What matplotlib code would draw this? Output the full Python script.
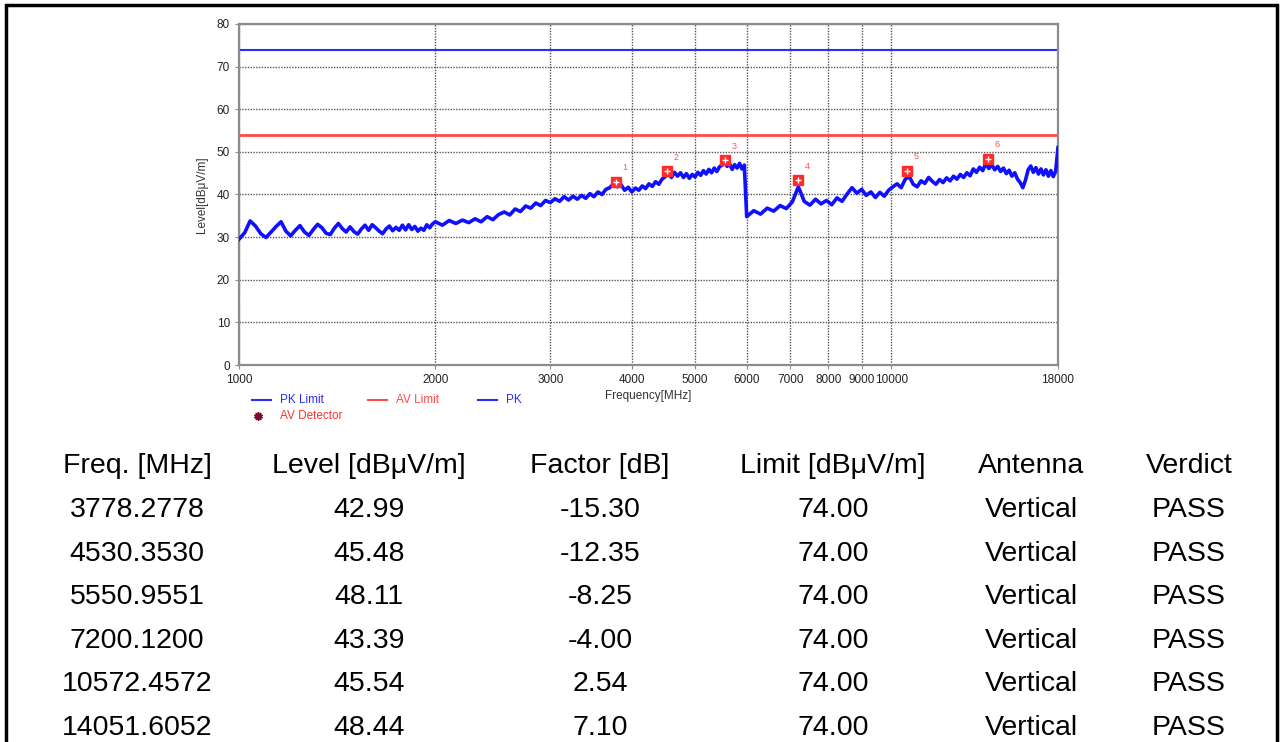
import numpy as np
import matplotlib.pyplot as plt
from matplotlib.lines import Line2D
from matplotlib.patches import Rectangle
from matplotlib.ticker import FixedLocator, NullLocator, FixedFormatter

plt.rcParams['font.family'] = ['Liberation Sans', 'DejaVu Sans']

# ---- sweep data (PK trace) ----
freq_a = np.arange(1000, 2000, 20)
level_a = [29.5, 31.0, 33.8, 32.6, 30.8, 29.9, 31.2, 32.5, 33.6, 31.4,
           30.3, 31.6, 32.7, 31.2, 30.4, 31.8, 33.0, 32.2, 30.9, 30.6,
           32.1, 33.2, 32.0, 31.2, 32.4, 31.3, 30.7, 31.9, 32.8, 31.6,
           32.9, 32.2, 31.4, 30.8, 31.9, 32.6, 31.5, 32.3, 31.6, 32.8,
           31.7, 32.9, 31.8, 32.5, 31.4, 32.1, 31.6, 32.9, 32.2, 33.1]

freq_b = np.arange(2000, 6000, 50)
level_b = [33.6, 32.8, 33.9, 33.2, 34.0, 33.4, 34.3, 33.6, 34.8, 34.1,
           35.3, 35.9, 35.2, 36.6, 36.0, 37.3, 36.8, 38.0, 37.4, 38.6,
           38.1, 39.0, 38.4, 39.5, 38.7, 39.6, 38.9, 39.8, 39.1, 40.2,
           39.5, 40.6, 40.0, 41.2, 41.6, 42.5, 41.8, 42.3, 41.0, 41.7,
           40.6, 41.5, 41.0, 42.0, 41.4, 42.5, 41.9, 43.0, 42.4, 43.6,
           44.2, 44.9, 44.0, 45.2, 44.3, 45.1, 44.0, 44.9, 43.8, 44.7,
           44.1, 45.2, 44.5, 45.6, 44.8, 45.9, 45.1, 46.2, 45.4, 46.5,
           46.9, 47.6, 46.6, 47.2, 45.9, 47.0, 46.2, 47.3, 46.0, 46.9]

freq_c = np.arange(6000, 18000, 150)
level_c = [34.8, 36.2, 35.4, 36.8, 36.1, 37.4, 36.7, 38.3, 41.8, 38.4,
           37.5, 38.9, 37.8, 38.6, 37.6, 39.2, 38.4, 40.1, 41.6, 40.3,
           41.2, 39.8, 40.6, 39.3, 40.5, 39.6, 41.0, 41.8, 42.5, 41.6,
           43.6, 44.2, 42.4, 41.8, 43.2, 42.6, 44.0, 43.1, 42.4, 43.5,
           42.8, 43.9, 43.2, 44.3, 43.6, 44.7, 44.0, 45.1, 44.4, 46.0,
           45.2, 46.4, 45.6, 47.3, 46.1, 47.0, 45.8, 46.6, 45.4, 46.2,
           44.9, 45.7, 44.3, 45.1, 43.6, 42.8, 41.6, 43.4, 45.8, 46.7,
           45.2, 46.3, 44.8, 46.0, 44.6, 45.8, 44.3, 45.6, 44.2, 45.4]
freq_end = [18000]
level_end = [51.0]

trace_f = np.concatenate([freq_a, freq_b, freq_c, freq_end])
trace_l = np.concatenate([level_a, level_b, level_c, level_end])

pk_limit = 74.0
av_limit = 54.0

# ---- final measurement table ----
mk_freq = [3778.2778, 4530.3530, 5550.9551, 7200.1200, 10572.4572, 14051.6052]
mk_level = [42.99, 45.48, 48.11, 43.39, 45.54, 48.44]
mk_factor = [-15.30, -12.35, -8.25, -4.00, 2.54, 7.10]
mk_limit = [74.00, 74.00, 74.00, 74.00, 74.00, 74.00]
mk_antenna = ['Vertical'] * 6
mk_verdict = ['PASS'] * 6
headers = ['Freq. [MHz]', 'Level [dBμV/m]', 'Factor [dB]', 'Limit [dBμV/m]', 'Antenna', 'Verdict']

xticks = [1000, 2000, 3000, 4000, 5000, 6000, 7000, 8000, 9000, 10000, 18000]

W, H = 1282, 742
fig = plt.figure(figsize=(W / 100, H / 100), dpi=100)
ax = fig.add_axes([239 / W, 1 - 365 / H, (1058 - 239) / W, (365 - 24) / H])

ax.plot(trace_f, trace_l, color='#1010ff', lw=2.6, zorder=3)
ax.axhline(pk_limit, color='#2b2bff', lw=1.5, zorder=2)
ax.axhline(av_limit, color='#ff4a4a', lw=2.0, zorder=2)

ax.plot(mk_freq, mk_level, ls='none', marker='s', ms=7, color='#ff2a2a', zorder=4)
ax.plot(mk_freq, mk_level, ls='none', marker='+', ms=5, mew=1.0, color='white', zorder=5)
for i, (f, l) in enumerate(zip(mk_freq, mk_level)):
    ax.annotate(str(i + 1), (f, l), xytext=(6.5, 10), textcoords='offset points',
                color='#ff5050', fontsize=6.5, ha='center', va='center')

ax.set_xscale('log')
ax.set_xlim(1000, 18000)
ax.set_ylim(0, 80)
ax.xaxis.set_major_locator(FixedLocator(xticks))
ax.xaxis.set_major_formatter(FixedFormatter([str(t) for t in xticks]))
ax.xaxis.set_minor_locator(NullLocator())
ax.set_yticks(range(0, 81, 10))
ax.grid(True, color='#555555', ls=(0, (1, 1)), lw=1.0)
ax.set_axisbelow(True)
for s in ax.spines.values():
    s.set_color('#8c8c8c')
    s.set_linewidth(1.6)
ax.tick_params(axis='both', labelsize=8.5, colors='#8c8c8c', labelcolor='#222222', length=3)
ax.set_xlabel('Frequency[MHz]', fontsize=8.5, color='#333333', labelpad=3)
ax.set_ylabel('Level[dBμV/m]', fontsize=8.5, color='#333333', labelpad=6)

# legend drawn under the axes
def fx(px):
    return px / W

def fy(py):
    return 1 - py / H

leg = [(252, 'PK Limit', '#2b2bff'), (368, 'AV Limit', '#ff4a4a'), (478, 'PK', '#2b2bff')]
for x0, lab, c in leg:
    fig.add_artist(Line2D([fx(x0), fx(x0 + 19)], [fy(400), fy(400)], color=c, lw=1.5))
    fig.text(fx(x0 + 28), fy(400), lab, color=c, fontsize=8.5, va='center')
fig.add_artist(Line2D([fx(258)], [fy(416)], marker=(10, 1, 0), ms=6, color='#7a0a2a', ls='none'))
fig.text(fx(280), fy(416), 'AV Detector', color='#ff3030', fontsize=8.5, va='center')

# table
col_x = [137, 369, 600, 833, 1031, 1189]
row_y = [466, 510, 554, 597, 641, 684, 728]
for cx, h in zip(col_x, headers):
    fig.text(fx(cx), fy(row_y[0]), h, ha='center', va='center', fontsize=20.5)
for r in range(len(mk_freq)):
    vals = [f'{mk_freq[r]:.4f}', f'{mk_level[r]:.2f}', f'{mk_factor[r]:.2f}',
            f'{mk_limit[r]:.2f}', mk_antenna[r], mk_verdict[r]]
    for cx, v in zip(col_x, vals):
        fig.text(fx(cx), fy(row_y[r + 1]), v, ha='center', va='center', fontsize=20.5)

# page frame
fig.add_artist(Rectangle((fx(6), -0.1), fx(1277 - 6), fy(5) + 0.1, fill=False,
                         ec='black', lw=2.5, transform=fig.transFigure, clip_on=False))

fig.savefig('out.png', dpi=100)
